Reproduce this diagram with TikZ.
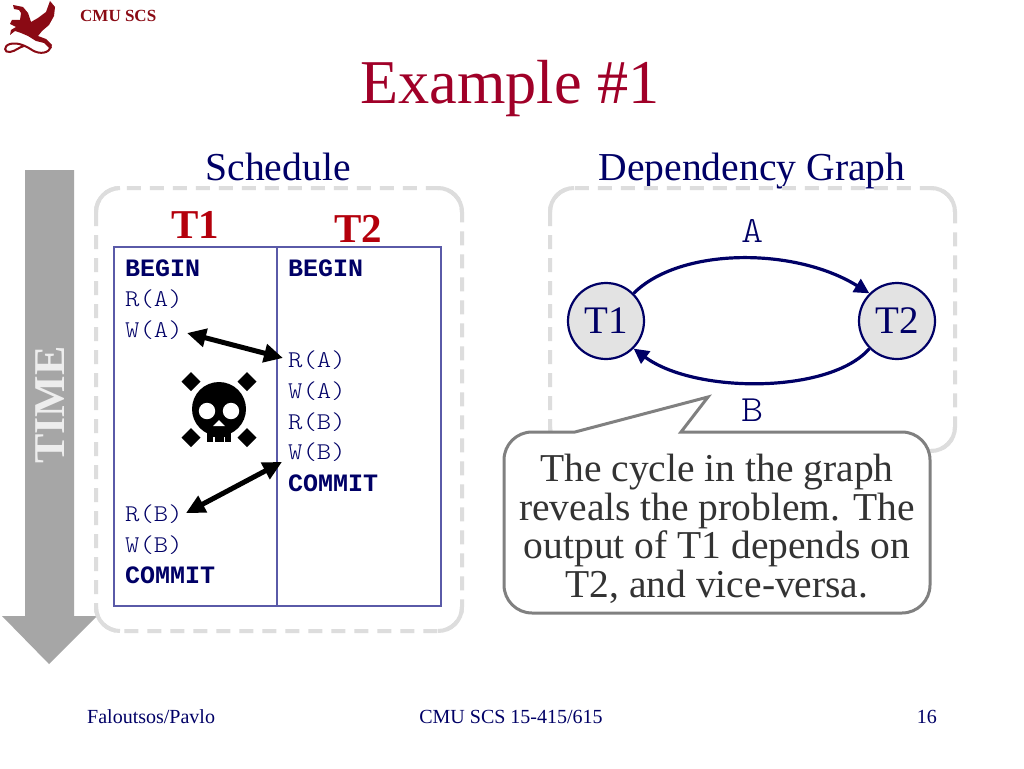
\documentclass[tikz,border=0pt]{standalone}
\usepackage{fontspec}
\setmainfont{Liberation Serif}
\newfontfamily\courreg[FakeStretch=1.14]{Latin Modern Mono Light}
\newfontfamily\courbold{Liberation Mono Bold}
\usetikzlibrary{arrows.meta}
\definecolor{titlered}{HTML}{A00028}
\definecolor{namered}{HTML}{B4000C}
\definecolor{logored}{HTML}{8A0A14}
\definecolor{navy}{HTML}{000066}
\definecolor{dashgray}{HTML}{DDDDDD}
\definecolor{timegray}{HTML}{A6A6A6}
\definecolor{tablecol}{HTML}{5A5AA8}
\definecolor{bubble}{HTML}{808080}
\newcommand{\fsz}[1]{\fontsize{#1}{#1}\selectfont}
\tikzset{
  x=1pt,y=-1pt,
  panel/.style={draw=dashgray,line width=4pt,dash pattern=on 14pt off 9pt,rounded corners=24pt},
  panelcorner/.style={draw=dashgray,line width=4pt},
  code/.style={anchor=west,inner sep=0pt,text=navy,font=\fsz{24}\courreg},
  codeb/.style={anchor=west,inner sep=0pt,text=navy,font=\fsz{25}\courbold},
  head/.style={text=navy,font=\fsz{39.6},inner sep=0pt,anchor=base},
  tname/.style={text=namered,font=\fsz{41}\bfseries,inner sep=0pt},
  foot/.style={text=navy,font=\fsz{20},inner sep=0pt},
  gnode/.style={circle,draw=navy,fill=black!11,line width=2.2pt,minimum size=76pt,inner sep=0pt,text=navy,font=\fsz{39}},
  glabel/.style={text=navy,inner sep=0pt,font=\fsz{37}\courreg},
  conflict/.style={black,line width=5pt,{Triangle[length=19pt,width=18pt]}-{Triangle[length=19pt,width=18pt]}},
  dep/.style={navy,line width=3.2pt,-{Triangle[length=15pt,width=15pt]}},
}
\begin{document}
\begin{tikzpicture}
\useasboundingbox (0,0) rectangle (1024,768);
\fill[white] (0,0) rectangle (1024,768);
% logo
\fill[logored] (50,1) -- (55,7) -- (54,16) -- (49,25) -- (42,31) -- (38,36) -- (46,39) -- (52,45) -- (50,49) -- (44,43) -- (36,41) -- (28,36) -- (21,33) -- (15,31) -- (10,35) -- (11,30) -- (16,27) -- (10,24) -- (12,20) -- (20,20) -- (21,13) -- (19,10) -- (14,9) -- (13,5) -- (23,7) -- (28,13) -- (31,22) -- (38,18) -- (46,12) -- cycle;
\draw[logored,line width=2pt,line cap=round] (51,47) .. controls (49,53) and (40,55) .. (32,50) .. controls (26,46) and (18,42) .. (10,44) .. controls (3,46) and (4,53) .. (10,52) .. controls (16,51) and (19,47) .. (24,46);
\node[anchor=west,inner sep=0pt,text=logored,font=\fsz{17}\bfseries] (logotext) at (80,16) {CMU SCS};
% title
\node[anchor=base,text=titlered,font=\fsz{62.3},inner sep=0pt] (title) at (510,103) {Example \#1};
\node[head] (schedhead) at (278,180) {Schedule};
\node[head] (dephead) at (752,180) {Dependency Graph};
% time arrow
\fill[timegray] (25,170) -- (74,170) -- (74,616) -- (97,616) -- (49,664) -- (2,616) -- (25,616) -- cycle;
\node[rotate=90,text=black!7,inner sep=0pt,font=\fsz{44}\bfseries] (time) at (50,405) {TIME};
% panels
\draw[panel] (96,188) rectangle (462,631);
\draw[panel] (550,188) rectangle (955,451);
\foreach \xa/\ya/\xb/\yb in {96/188/462/631,550/188/955/451}{
  \draw[panelcorner] (\xa,\ya+24) arc[start angle=180,end angle=270,radius=24];
  \draw[panelcorner] (\xb-24,\ya) arc[start angle=-90,end angle=0,radius=24];
  \draw[panelcorner] (\xb,\yb-24) arc[start angle=0,end angle=90,radius=24];
  \draw[panelcorner] (\xa+24,\yb) arc[start angle=90,end angle=180,radius=24];
}
% table
\draw[tablecol,line width=1.3pt] (114,247) rectangle (441,606);
\draw[tablecol,line width=1.3pt] (277,247) -- (277,606);
\node[tname] (t1head) at (195,225) {T1};
\node[tname] (t2head) at (358,229) {T2};
\node[codeb] (b1) at (125,268) {BEGIN};
\node[code] (ra1) at (125,299) {R(A)};
\node[code] (wa1) at (125,330) {W(A)};
\node[code] (rb1) at (125,514) {R(B)};
\node[code] (wb1) at (125,545) {W(B)};
\node[codeb] (c1) at (125,575) {COMMIT};
\node[codeb] (b2) at (288,268) {BEGIN};
\node[code] (ra2) at (288,360) {R(A)};
\node[code] (wa2) at (288,391) {W(A)};
\node[code] (rb2) at (288,422) {R(B)};
\node[code] (wb2) at (288,452) {W(B)};
\node[codeb] (c2) at (288,483) {COMMIT};
% conflict arrows
\coordinate (wa1e) at (187,333);
\coordinate (ra2w) at (283,358);
\coordinate (rb1e) at (186,513);
\coordinate (wb2w) at (282,462);
\draw[conflict] (wa1e) -- (ra2w);
\draw[conflict] (rb1e) -- (wb2w);
% skull
\fill[black] (219,409) circle (27);
\fill[black] (207,425) rectangle (231,442);
\fill[white] (207,411) circle (8.2);
\fill[white] (231,411) circle (8.2);
\fill[white] (219,420) -- (225,426) -- (213,426) -- cycle;
\fill[white] (213,437) rectangle (214.5,442);
\fill[white] (223.5,437) rectangle (225,442);
\fill[black] (191,372) -- (200.5,381.5) -- (191,391) -- (181.5,381.5) -- cycle;
\fill[black] (247,372) -- (256.5,381.5) -- (247,391) -- (237.5,381.5) -- cycle;
\fill[black] (191,428) -- (200.5,437.5) -- (191,447) -- (181.5,437.5) -- cycle;
\fill[black] (247,428) -- (256.5,437.5) -- (247,447) -- (237.5,437.5) -- cycle;
% graph
\node[gnode] (t1) at (606,321) {T1};
\node[gnode] (t2) at (897,321) {T2};
\draw[dep] (t1.north east) .. controls (680,247) and (795,247) .. (t2.north west);
\draw[dep] (t2.south west) .. controls (830,394) and (695,394) .. (t1.south east);
\node[glabel] (la) at (753,231) {A};
\node[glabel] (lb) at (753,410) {B};
% callout
\draw[bubble,fill=white,line width=3pt,line join=miter]
  (575,432) -- (708,397) -- (681,432) -- (902,432)
  arc[start angle=-90,end angle=0,radius=28] -- (930,585)
  arc[start angle=0,end angle=90,radius=28] -- (532,613)
  arc[start angle=90,end angle=180,radius=28] -- (504,460)
  arc[start angle=180,end angle=270,radius=28] -- cycle;
\node[align=center,inner sep=0pt,text=black!80,font=\fontsize{39.5}{38.6}\selectfont] (calltext) at (717,529) {The cycle in the graph\\reveals the problem. The\\output of T1 depends on\\T2, and vice-versa.};
% footer
\node[foot,anchor=west] (f1) at (87,717) {Faloutsos/Pavlo};
\node[foot] (f2) at (511,717) {CMU SCS 15-415/615};
\node[foot,anchor=east] (f3) at (937,717) {16};
\end{tikzpicture}
\end{document}
